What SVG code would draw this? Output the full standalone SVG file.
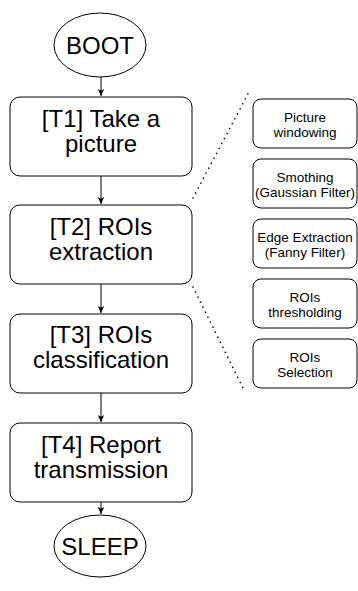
<svg xmlns="http://www.w3.org/2000/svg" width="358" height="591" viewBox="0 0 358 591">
<style>
.shape{fill:#fff;stroke:#000;stroke-width:1}
.big{font-family:"Liberation Sans",Arial,sans-serif;font-size:24px;fill:#000;text-anchor:middle}
.small{font-family:"Liberation Sans",Arial,sans-serif;font-size:13.5px;fill:#000;text-anchor:middle}
.conn{stroke:#000;stroke-width:1;fill:none}
.dots{stroke:#000;stroke-width:1.6;fill:none;stroke-dasharray:0.1 5.5;stroke-linecap:round}
</style>
<defs>
<marker id="arr" markerWidth="8" markerHeight="8" refX="7" refY="4" orient="auto" markerUnits="userSpaceOnUse">
<path d="M0,0.8 L7,4 L0,7.2 L1.8,4 Z" fill="#000"/>
</marker>
</defs>
<rect width="358" height="591" fill="#fff"/>
<g id="connectors">
<line class="conn" x1="101" y1="77" x2="101" y2="96" marker-end="url(#arr)"/>
<line class="conn" x1="101" y1="176" x2="101" y2="204" marker-end="url(#arr)"/>
<line class="conn" x1="101" y1="284" x2="101" y2="313" marker-end="url(#arr)"/>
<line class="conn" x1="101" y1="393" x2="101" y2="422" marker-end="url(#arr)"/>
<line class="conn" x1="101" y1="502" x2="101" y2="514" marker-end="url(#arr)"/>
<line class="dots" x1="193" y1="198" x2="250" y2="90"/>
<line class="dots" x1="193" y1="287" x2="243" y2="388"/>
</g>
<g id="boot">
<ellipse class="shape" cx="100" cy="45" rx="46" ry="32"/>
<text class="big" x="100" y="53.5">BOOT</text>
</g>
<g id="t1">
<rect class="shape" x="10" y="97" width="182" height="79" rx="10"/>
<text class="big" x="101" y="127">[T1] Take a</text>
<text class="big" x="101" y="152">picture</text>
</g>
<g id="t2">
<rect class="shape" x="10" y="205" width="182" height="79" rx="10"/>
<text class="big" x="101" y="235">[T2] ROIs</text>
<text class="big" x="101" y="260">extraction</text>
</g>
<g id="t3">
<rect class="shape" x="10" y="314" width="182" height="79" rx="10"/>
<text class="big" x="101" y="343">[T3] ROIs</text>
<text class="big" x="101" y="368">classification</text>
</g>
<g id="t4">
<rect class="shape" x="10" y="423" width="182" height="79" rx="10"/>
<text class="big" x="101" y="453">[T4] Report</text>
<text class="big" x="101" y="478">transmission</text>
</g>
<g id="sleep">
<ellipse class="shape" cx="100" cy="546" rx="46" ry="31"/>
<text class="big" x="100" y="554.5">SLEEP</text>
</g>
<g id="s1">
<rect class="shape" x="253" y="99" width="104" height="49" rx="8"/>
<text class="small" x="305" y="122">Picture</text>
<text class="small" x="305" y="137">windowing</text>
</g>
<g id="s2">
<rect class="shape" x="253" y="159" width="104" height="49" rx="8"/>
<text class="small" x="305" y="182">Smothing</text>
<text class="small" x="305" y="197">(Gaussian Filter)</text>
</g>
<g id="s3">
<rect class="shape" x="253" y="219" width="104" height="49" rx="8"/>
<text class="small" x="305" y="242">Edge Extraction</text>
<text class="small" x="305" y="257">(Fanny Filter)</text>
</g>
<g id="s4">
<rect class="shape" x="253" y="279" width="104" height="49" rx="8"/>
<text class="small" x="305" y="302">ROIs</text>
<text class="small" x="305" y="317">thresholding</text>
</g>
<g id="s5">
<rect class="shape" x="253" y="339" width="104" height="49" rx="8"/>
<text class="small" x="305" y="362">ROIs</text>
<text class="small" x="305" y="377">Selection</text>
</g>
</svg>
